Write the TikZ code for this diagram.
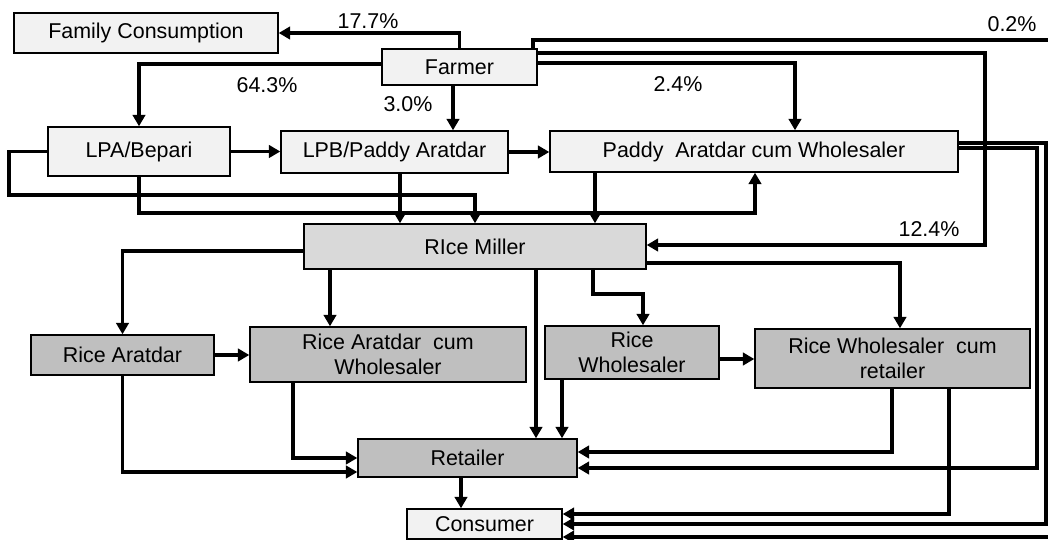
\documentclass[tikz,border=0pt]{standalone}
\usepackage{fontspec}
\setmainfont{Liberation Sans}
\usetikzlibrary{arrows.meta}
\definecolor{boxlight}{HTML}{F2F2F2}
\definecolor{boxmid}{HTML}{D9D9D9}
\definecolor{boxdark}{HTML}{BFBFBF}

\begin{document}
\begin{tikzpicture}[x=0.02cm,y=-0.02cm, every node/.style={font=\fontsize{12.2}{14.5}\selectfont,align=center},
  p/.style={draw=black,line width=0.8pt,inner sep=0pt},
  pl/.style={p,fill=boxlight}, pm/.style={p,fill=boxmid}, pd/.style={p,fill=boxdark},
  arr/.style={-{Triangle[length=2.3mm,width=2.5mm]},line width=1.8pt,draw=black}]
  \useasboundingbox (0,0) rectangle (1048,540);
  \clip (0,0) rectangle (1048,540);
  % boxes
  \node[pl,minimum width=5.28cm,minimum height=0.8cm] (family) at (146,33) {Family Consumption};
  \node[pl,minimum width=3.1cm,minimum height=0.72cm] (farmer) at (459.5,67) {Farmer};
  \node[pl,minimum width=3.64cm,minimum height=0.98cm] (lpa) at (139,151.5) {LPA/Bepari};
  \node[pl,minimum width=4.54cm,minimum height=0.84cm] (lpb) at (394.5,152) {LPB/Paddy Aratdar};
  \node[pl,minimum width=8.16cm,minimum height=0.82cm] (paddy) at (754,151.5) {Paddy\ \ Aratdar cum Wholesaler};
  \node[pm,minimum width=6.84cm,minimum height=0.9cm] (miller) at (475,246.5) {RIce Miller};
  \node[pd,minimum width=3.66cm,minimum height=0.8cm] (riceA) at (122.5,355) {Rice Aratdar};
  \node[pd,minimum width=5.52cm,minimum height=1.1cm] (riceAW) at (388,354.5) {Rice Aratdar\ \ cum\\Wholesaler};
  \node[pd,minimum width=3.48cm,minimum height=1.06cm] (riceW) at (632,352.5) {Rice\\Wholesaler};
  \node[pd,minimum width=5.5cm,minimum height=1.18cm] (riceWR) at (892.5,358.5) {Rice Wholesaler\ \ cum\\retailer};
  \node[pd,minimum width=4.38cm,minimum height=0.76cm] (retail) at (467.5,458) {Retailer};
  \node[pl,minimum width=3.1cm,minimum height=0.6cm] (consumer) at (484.5,524) {Consumer};
  % shares
  \node (p177) at (368,21) {17.7\%};
  \node (p02) at (1012,24) {0.2\%};
  \node (p643) at (267,85) {64.3\%};
  \node (p30) at (408,104) {3.0\%};
  \node (p24) at (678,84) {2.4\%};
  \node (p124) at (929,229) {12.4\%};
  % flows from farmer
  \draw[arr] (farmer.north) |- (family.east);
  \draw[arr] (533,0 |- farmer.north) -- (533,40) -- (1054,40) |- (consumer.east |- 0,537);
  \draw[arr] (farmer.east |- 0,53) -| (985,245) -- (miller.east |- 0,245);
  \draw[arr] (farmer.east |- 0,63) -| (795,0 |- paddy.north);
  \draw[arr] (farmer.west |- 0,64) -| (lpa.north);
  \draw[arr] (farmer.south -| 453,0) -- (lpb.north -| 453,0);
  % paddy traders
  \draw[arr] (lpa.east) -- (lpa.east -| lpb.west);
  \draw[arr] (lpb.east) -- (lpb.east -| paddy.west);
  \draw[arr] (lpa.west) -| (9,195) -| (miller.north -| 475,0);
  \draw[arr] (lpa.south) |- (755,213) -- (paddy.south -| 755,0);
  \draw[arr] (lpb.south -| 400,0) -- (miller.north -| 400,0);
  \draw[arr] (paddy.south -| 595,0) -- (miller.north -| 595,0);
  % rice traders
  \draw[arr] (miller.west |- 0,251) -| (riceA.north);
  \draw[arr] (miller.south -| 330,0) -- (riceAW.north -| 330,0);
  \draw[arr] (miller.south -| 536,0) -- (retail.north -| 536,0);
  \draw[arr] (miller.south -| 593,0) |- (643,294) -- (riceW.north -| 643,0);
  \draw[arr] (miller.east |- 0,263) -| (riceWR.north -| 900,0);
  \draw[arr] (riceA.east) -- (riceA.east -| riceAW.west);
  \draw[arr] (riceW.east |- 0,359) -- (riceWR.west |- 0,359);
  \draw[arr] (riceA.south) |- (retail.west |- 0,472);
  \draw[arr] (riceAW.south -| 293,0) |- (retail.west |- 0,458);
  \draw[arr] (riceW.south -| 562,0) -- (retail.north -| 562,0);
  \draw[arr] (riceWR.south -| 892,0) |- (retail.east |- 0,452);
  \draw[arr] (paddy.east |- 0,148) -| (1037,468) -- (retail.east |- 0,468);
  \draw[arr] (paddy.east |- 0,143) -| (1046,524) -- (consumer.east |- 0,524);
  \draw[arr] (riceWR.south -| 949,0) |- (consumer.east |- 0,514);
  \draw[arr] (retail.south -| 461,0) -- (consumer.north -| 461,0);
\end{tikzpicture}
\end{document}
